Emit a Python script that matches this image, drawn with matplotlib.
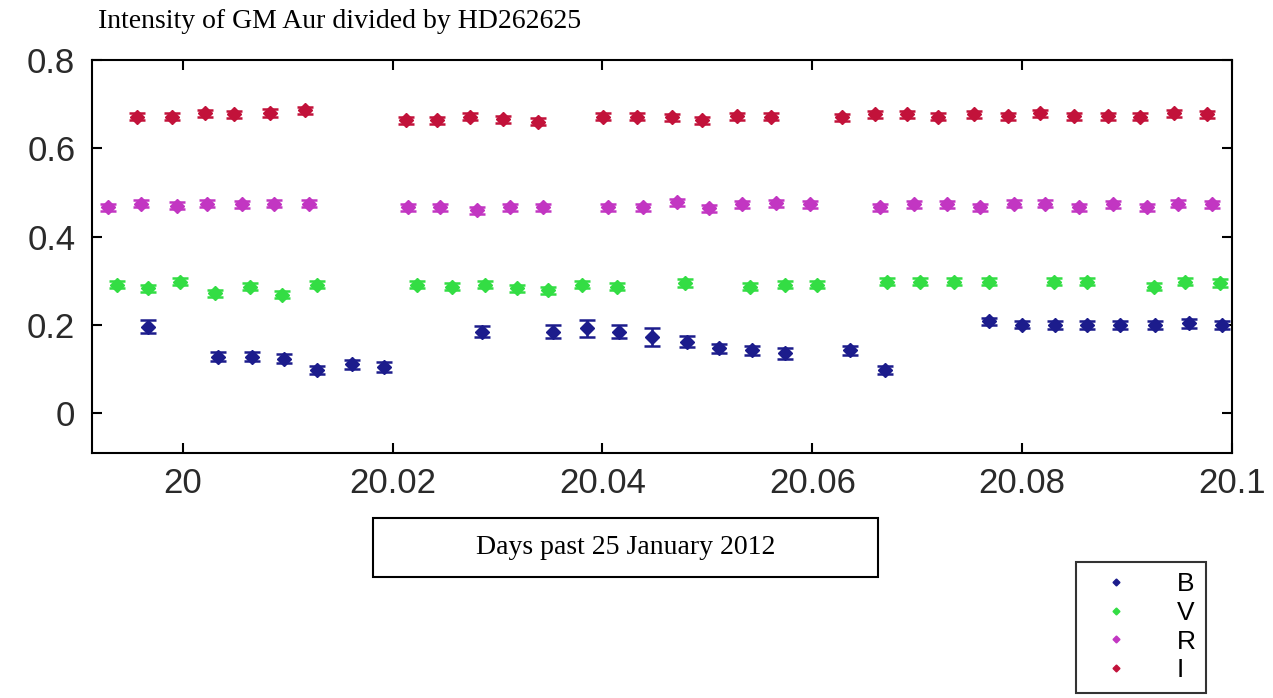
import matplotlib
matplotlib.use("Agg")
import matplotlib.pyplot as plt
from matplotlib.lines import Line2D
from matplotlib.patches import Rectangle

# ---- data (days past 25 Jan 2012, flux ratio) ----
b_days = [19.99672, 20.00339, 20.00658, 20.00966, 20.01283, 20.01611, 20.01919,
          20.02850, 20.03533, 20.03851, 20.04153, 20.04471, 20.04805, 20.05106,
          20.05424, 20.05742, 20.06361, 20.06695, 20.07680, 20.07998, 20.08316,
          20.08618, 20.08935, 20.09269, 20.09586, 20.09905]
b_flux = [0.196, 0.128, 0.128, 0.124, 0.098, 0.111, 0.105,
          0.185, 0.185, 0.192, 0.185, 0.173, 0.162, 0.147,
          0.143, 0.136, 0.143, 0.098, 0.208, 0.200, 0.200,
          0.200, 0.200, 0.200, 0.204, 0.200]
b_err = [0.015, 0.010, 0.010, 0.010, 0.010, 0.010, 0.012,
         0.012, 0.015, 0.020, 0.015, 0.020, 0.012, 0.010,
         0.010, 0.012, 0.010, 0.010, 0.008, 0.008, 0.010,
         0.010, 0.010, 0.010, 0.010, 0.010]

v_days = [19.99371, 19.99672, 19.99974, 20.00308, 20.00642, 20.00944, 20.01277,
          20.02231, 20.02564, 20.02882, 20.03184, 20.03485, 20.03804, 20.04137,
          20.04788, 20.05408, 20.05742, 20.06044, 20.06711, 20.07029, 20.07346,
          20.07680, 20.08299, 20.08618, 20.09253, 20.09555, 20.09889]
v_flux = [0.291, 0.283, 0.298, 0.272, 0.287, 0.268, 0.291,
          0.291, 0.287, 0.291, 0.283, 0.279, 0.291, 0.287,
          0.295, 0.287, 0.291, 0.291, 0.298, 0.298, 0.298,
          0.298, 0.298, 0.298, 0.287, 0.298, 0.295]

r_days = [19.99291, 19.99602, 19.99943, 20.00229, 20.00562, 20.00873, 20.01207,
          20.02151, 20.02453, 20.02803, 20.03120, 20.03438,
          20.04057, 20.04391, 20.04709, 20.05011, 20.05329, 20.05656, 20.05980,
          20.06647, 20.06965, 20.07283, 20.07601, 20.07918, 20.08220, 20.08538,
          20.08866, 20.09190, 20.09482, 20.09810]
r_flux = [0.467, 0.474, 0.470, 0.474, 0.473, 0.474, 0.474,
          0.467, 0.467, 0.460, 0.467, 0.467,
          0.467, 0.467, 0.478, 0.464, 0.473, 0.476, 0.473,
          0.467, 0.473, 0.473, 0.467, 0.474, 0.474, 0.467,
          0.473, 0.467, 0.474, 0.473]

i_days = [19.99564, 19.99895, 20.00213, 20.00492, 20.00832, 20.01166,
          20.02129, 20.02421, 20.02739, 20.03056, 20.03387,
          20.04007, 20.04328, 20.04662, 20.04948, 20.05281, 20.05605,
          20.06282, 20.06600, 20.06902, 20.07200, 20.07537, 20.07861,
          20.08166, 20.08490, 20.08814, 20.09126, 20.09450, 20.09762]
i_flux = [0.671, 0.671, 0.679, 0.677, 0.680, 0.686,
          0.664, 0.664, 0.671, 0.666, 0.660,
          0.671, 0.671, 0.670, 0.664, 0.673, 0.671,
          0.670, 0.677, 0.677, 0.671, 0.677, 0.673,
          0.679, 0.673, 0.673, 0.671, 0.679, 0.677]

small_err = 0.008

colors = {'B': '#1c1c8c', 'V': '#33dd44', 'R': '#c236c2', 'I': '#c2123a'}
series = [('B', b_days, b_flux, b_err),
          ('V', v_days, v_flux, [small_err] * len(v_days)),
          ('R', r_days, r_flux, [small_err] * len(r_days)),
          ('I', i_days, i_flux, [small_err] * len(i_days))]

# ---- figure ----
W, H = 1273, 698
fig = plt.figure(figsize=(W / 100, H / 100), dpi=100)
ax = fig.add_axes([92 / W, 1 - 453 / H, (1232 - 92) / W, (453 - 60) / H])

for name, xs, ys, es in series:
    ax.errorbar(xs, ys, yerr=es, fmt='D', color=colors[name], markersize=7,
                elinewidth=1.8, capsize=5.5, capthick=1.8, linestyle='none')

ax.set_xlim(19.99135, 20.1)
ax.set_ylim(-0.09, 0.8)
ax.set_xticks([20, 20.02, 20.04, 20.06, 20.08, 20.1])
ax.set_xticklabels(['20', '20.02', '20.04', '20.06', '20.08', '20.1'])
ax.set_yticks([0, 0.2, 0.4, 0.6, 0.8])
ax.set_yticklabels(['0', '0.2', '0.4', '0.6', '0.8'])

for s in ax.spines.values():
    s.set_linewidth(1.5)
ax.tick_params(direction='in', length=7, width=1.5, top=True, right=True,
               labelsize=25, labelcolor='#2a2a2a')
ax.tick_params(axis='y', pad=12)
ax.tick_params(axis='x', pad=10)
for lab in ax.get_xticklabels() + ax.get_yticklabels():
    lab.set_fontfamily('Liberation Sans')

# title (serif, upper left)
fig.text(98 / W, 1 - 21 / H, 'Intensity of GM Aur divided by HD262625',
         family='Liberation Serif', fontsize=20, va='center', ha='left')

# x label inside a box
fig.patches.append(Rectangle((373 / W, 1 - 577 / H), (878 - 373) / W, (577 - 518) / H,
                             transform=fig.transFigure, fill=False,
                             edgecolor='black', linewidth=1.5))
fig.text(625.5 / W, 1 - 547.5 / H, 'Days past 25 January 2012',
         family='Liberation Serif', fontsize=20, ha='center', va='center')

# legend (marker only, bottom right)
handles = [Line2D([], [], marker='D', linestyle='none', markersize=3.5,
                  color=colors[n]) for n, _, _, _ in series]
leg = fig.legend(handles, [n for n, _, _, _ in series],
                 loc='lower right', bbox_to_anchor=(1206 / W, 1 - 693 / H),
                 prop={'family': 'Liberation Sans', 'size': 19},
                 frameon=True, fancybox=False, borderaxespad=0,
                 handlelength=2.2, handletextpad=1.2, labelspacing=0.18,
                 borderpad=0.4)
leg.get_frame().set_edgecolor('black')
leg.get_frame().set_linewidth(1.5)

fig.savefig('out.png', dpi=100)
